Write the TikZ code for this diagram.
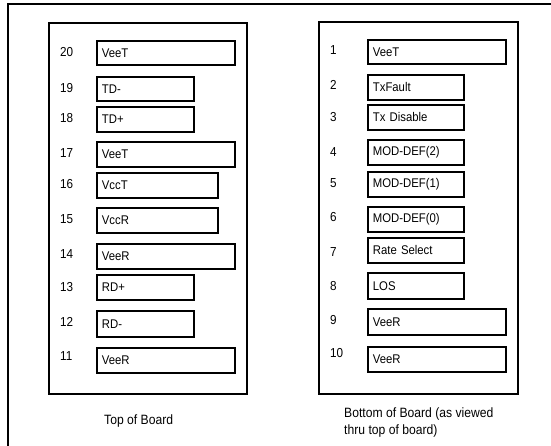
\documentclass[tikz,border=0pt]{standalone}
\usepackage{fontspec}
\setmainfont{Liberation Sans}[FakeStretch=0.9]
\begin{document}
\begin{tikzpicture}[x=1pt,y=-1pt,
  frame/.style={line width=1.8pt},
  board/.style={draw,line width=1.8pt,rectangle,inner sep=0pt,anchor=north west},
  pinbox/.style={draw,line width=1.8pt,rectangle,anchor=north west,inner ysep=0pt,inner xsep=5pt,align=left,font=\fontsize{12.6}{14}\selectfont},
  pinnum/.style={anchor=west,inner sep=0pt,font=\fontsize{13}{15}\selectfont},
  caption/.style={anchor=base west,inner sep=0pt,font=\fontsize{13.5}{16}\selectfont}]
\useasboundingbox (0,0) rectangle (551,445);
% outer frame (open at right and bottom)
\coordinate (fbl) at (8,446);
\coordinate (ftl) at (8,4);
\coordinate (ftr) at (552,4);
\draw[frame] (fbl) -- (ftl) -- (ftr);
% boards
\node[board,minimum width=198pt,minimum height=371pt] (boardL) at (48,22) {};
\node[board,minimum width=199pt,minimum height=372pt] (boardR) at (318,21) {};
% pins: #1 name, #2 number, #3 label, #4 left x, #5 top y, #6 right x, #7 bottom y, #8 num x, #9 num y
\newcommand\pinrow[9]{%
  \pgfmathsetmacro\pw{#6-#4}\pgfmathsetmacro\ph{#7-#5}\pgfmathsetmacro\tw{#6-#4-10}%
  \node[pinbox,text width=\tw pt,minimum height=\ph pt] (#1) at (#4,#5) {#3};
  \node[pinnum] (#1n) at (#8,#9) {#2};}
% top of board
\pinrow{p20}{20}{VeeT}{96}{40}{234}{64}{60}{52}
\pinrow{p19}{19}{TD-}{96}{76}{193}{100}{60}{88.5}
\pinrow{p18}{18}{TD+}{96}{106}{193}{131}{60}{118.5}
\pinrow{p17}{17}{VeeT}{96}{141}{234}{166}{60}{153}
\pinrow{p16}{16}{VccT}{96}{172}{217}{197}{60}{184}
\pinrow{p15}{15}{VccR}{96}{207}{217}{232}{60}{219}
\pinrow{p14}{14}{VeeR}{96}{243}{234}{268}{60}{254}
\pinrow{p13}{13}{RD+}{96}{274}{193}{299}{60}{287}
\pinrow{p12}{12}{RD-}{96}{310}{193}{336}{60}{322}
\pinrow{p11}{11}{VeeR}{96}{347}{234}{372}{60}{356}
% bottom of board
\pinrow{p1}{1}{VeeT}{367}{39}{505}{63}{330}{50}
\pinrow{p2}{2}{TxFault}{367}{74}{463}{99}{330}{85}
\pinrow{p3}{3}{Tx Disable}{367}{104}{463}{129}{330}{117}
\pinrow{p4}{4}{MOD-DEF(2)}{367}{139}{463}{164}{330}{152}
\pinrow{p5}{5}{MOD-DEF(1)}{367}{171}{463}{196}{330}{183}
\pinrow{p6}{6}{MOD-DEF(0)}{367}{206}{463}{231}{330}{217}
\pinrow{p7}{7}{Rate Select}{367}{237}{463}{262}{330}{252}
\pinrow{p8}{8}{LOS}{367}{272}{463}{298}{330}{286}
\pinrow{p9}{9}{VeeR}{367}{308}{505}{334}{330}{320}
\pinrow{p10}{10}{VeeR}{367}{346}{505}{371}{330}{353}
% captions
\node[caption] (capL) at (104,424) {Top of Board};
\node[caption] (capR1) at (344,417) {Bottom of Board (as viewed};
\node[caption] (capR2) at (344,434) {thru top of board)};
\end{tikzpicture}
\end{document}
